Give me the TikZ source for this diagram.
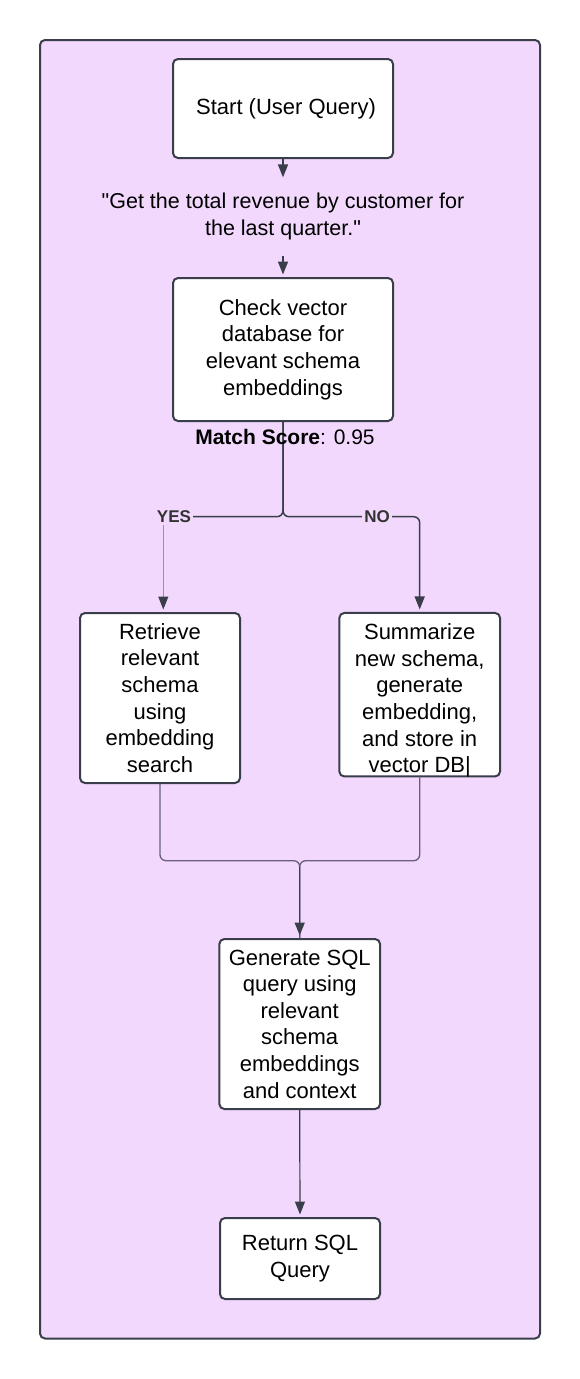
\documentclass[tikz,border=0pt]{standalone}
\usepackage{fontspec}
\setmainfont{Liberation Sans}[Ligatures=TeXOff]
\usetikzlibrary{arrows.meta}
\definecolor{bg}{RGB}{241,216,252}
\definecolor{bc}{RGB}{58,62,74}
\definecolor{mg}{RGB}{105,95,120}
\definecolor{lg}{RGB}{150,148,160}
\definecolor{labc}{RGB}{51,51,51}
\newcommand{\fsmain}{\fontsize{22}{26.6}\selectfont}
\begin{document}
\begin{tikzpicture}[x=1pt,y=-1pt,
 >={Triangle[length=13pt,width=10pt]},
 box/.style={draw=bc, line width=2pt, fill=white, rounded corners=5pt, align=center, font=\fsmain, text=black, inner sep=0pt},
 conn/.style={draw=bc, line width=1.5pt},
 arr/.style={conn, ->, shorten >=2.5pt},
 merge/.style={draw=mg, line width=1.3pt, rounded corners=6pt},
 lab/.style={font=\fontsize{17}{20}\selectfont\bfseries, text=labc, fill=bg, inner sep=2pt}]

\useasboundingbox (0,0) rectangle (580,1379);
\draw[draw=bc, line width=2pt, fill=bg, rounded corners=5pt] (40,40) rectangle (540,1338.5);

\node[box, minimum width=220, minimum height=99] (start) at (283,108.5) {\hspace*{6pt}Start (User Query)};
\node[font=\fontsize{21.5}{26.8}\selectfont, align=center, inner xsep=0pt, inner ysep=13pt, text=black] (quote) at (283,216.5) {"Get the total revenue by customer for\\the last quarter."};
\node[box, minimum width=220, minimum height=143] (chk) at (283,349.5) {Check vector\\database for\\elevant schema\\embeddings};
\node[box, minimum width=160, minimum height=170] (retr) at (160,698) {Retrieve\\relevant\\schema\\using\\embedding\\search};
\node[box, minimum width=160.7, minimum height=163.5] (sum) at (419.7,694.7) {};
\node[font=\fsmain, align=center, anchor=north, inner sep=0pt, text=black] (sumtxt) at (419.7,623.5) {Summarize\\new schema,\\generate\\embedding,\\and store in\\vector DB|};
\node[box, minimum width=160.7, minimum height=170] (gen) at (299.7,1024) {Generate SQL\\query using\\relevant\\schema\\embeddings\\and context};
\node[box, minimum width=160, minimum height=81] (ret) at (300,1258.5) {Return SQL\\Query};

% top arrows
\draw[arr] (start.south) -- (quote.north);
\draw[arr, shorten <=3pt] (quote.south) -- (chk.north);

% split
\coordinate (yc) at (163.3,516.7);
\coordinate (nc) at (419.7,516.7);
\draw[conn, rounded corners=6pt] (chk.south) |- (yc);
\draw[conn, rounded corners=6pt, ->, shorten >=2.5pt] (chk.south) |- (nc) -- (sum.north);
\node[font=\fontsize{21}{25}\selectfont, text=black] (ms) at (285,437) {\textbf{Match Score}: 0.95};
\node[lab] (yes) at (174,516.7) {YES};
\node[lab] (no) at (377,516.7) {NO};
\draw[draw=lg, line width=1pt, -{Triangle[length=13pt,width=10pt,color=bc]}, shorten >=2.5pt] (yes.south -| yc) -- (yc |- retr.north);

% merge
\coordinate (mj) at (299.7,860.7);
\draw[merge] (retr.south) |- (mj) -- (gen.north);
\draw[merge] (sum.south) |- (mj) -- (gen.north);
\draw[arr] ([yshift=-6pt]mj) -- (gen.north);

% bottom
\draw[arr, line width=1.2pt] (gen.south) -- (ret.north);
\end{tikzpicture}
\end{document}
